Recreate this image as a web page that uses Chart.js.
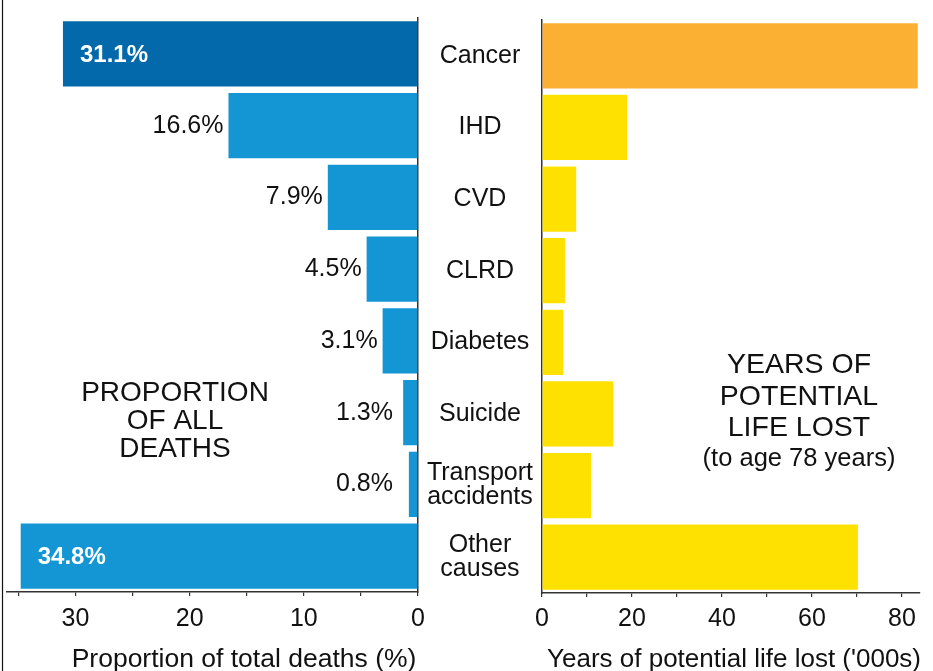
<!DOCTYPE html>
<html><head><meta charset="utf-8">
<script src="https://cdn.jsdelivr.net/npm/chart.js@4/dist/chart.umd.min.js"></script>
<style>
html,body{margin:0;padding:0;background:#fff;}
#wrap{position:relative;width:933px;height:671px;overflow:hidden;background:#fff;}
canvas{position:absolute;left:0;top:0;}
</style></head><body>
<div id="wrap"><canvas id="left" width="933" height="671"></canvas><canvas id="right" width="933" height="671"></canvas></div>
<script>
// ---- data ----
const categories = ['Cancer', 'IHD', 'CVD', 'CLRD', 'Diabetes', 'Suicide', ['Transport', 'accidents'], ['Other', 'causes']];
const deathShare = [31.1, 16.6, 7.9, 4.5, 3.1, 1.3, 0.8, 34.8];          // % of all deaths
const yearsLost = [83.5, 18.9, 7.6, 5.1, 4.7, 15.8, 10.9, 70.2];         // '000s years of potential life lost
const deathTicks = [0, 5, 10, 15, 20, 25, 30, 35];
const yearsTicks = [0, 10, 20, 30, 40, 50, 60, 70, 80];
const leftPanelTitle = ['PROPORTION', 'OF ALL', 'DEATHS'];
const rightPanelTitle = ['YEARS OF', 'POTENTIAL', 'LIFE LOST'];
const rightPanelSub = '(to age 78 years)';
const leftAxisTitle = 'Proportion of total deaths (%)';
const rightAxisTitle = "Years of potential life lost ('000s)";

// ---- styles ----
const FONT = '"Liberation Sans", Arial, Helvetica, sans-serif';
const BLUE_DARK = '#0469AA', BLUE = '#1396D3', ORANGE = '#FBB034', YELLOW = '#FFE100';
const AXIS = '#333333', TEXT = '#111111';
Chart.defaults.font.family = FONT;

const noPad = s => { s.paddingTop = 0; s.paddingBottom = 0; s.paddingLeft = 0; s.paddingRight = 0; };

const leftDecor = {
  id: 'leftDecor',
  afterDatasetsDraw(chart) {
    const ctx = chart.ctx;
    const meta = chart.getDatasetMeta(0);
    ctx.save();
    meta.data.forEach((bar, i) => {
      const v = deathShare[i];
      const label = v.toFixed(1) + '%';
      ctx.textBaseline = 'middle';
      if (v > 30) {
        ctx.font = 'bold 24px ' + FONT;
        ctx.fillStyle = '#ffffff';
        ctx.textAlign = 'left';
        ctx.fillText(label, bar.x + 17, bar.y + 1);
      } else {
        ctx.font = '25px ' + FONT;
        ctx.fillStyle = TEXT;
        ctx.textAlign = 'right';
        ctx.fillText(label, Math.min(bar.x - 5, 393), bar.y);
      }
    });
    ctx.restore();
  },
  afterDraw(chart) {
    const ctx = chart.ctx;
    ctx.save();
    ctx.strokeStyle = '#111';
    ctx.lineWidth = 1.2;
    ctx.beginPath(); ctx.moveTo(2.5, 0); ctx.lineTo(2.5, 671); ctx.stroke();
    ctx.fillStyle = TEXT;
    ctx.textAlign = 'center';
    ctx.textBaseline = 'alphabetic';
    ctx.font = '28px ' + FONT;
    leftPanelTitle.forEach((t, i) => ctx.fillText(t, 175, 401 + i * 28));
    ctx.font = '26.5px ' + FONT;
    ctx.fillText(leftAxisTitle, 244, 667);
    ctx.restore();
  }
};

const rightDecor = {
  id: 'rightDecor',
  afterDraw(chart) {
    const ctx = chart.ctx;
    ctx.save();
    ctx.fillStyle = TEXT;
    ctx.textAlign = 'center';
    ctx.textBaseline = 'alphabetic';
    ctx.font = '28.5px ' + FONT;
    rightPanelTitle.forEach((t, i) => ctx.fillText(t, 799, 373 + i * 31.7));
    ctx.font = '25.5px ' + FONT;
    ctx.fillText(rightPanelSub, 799, 466);
    ctx.font = '26px ' + FONT;
    ctx.fillText(rightAxisTitle, 734, 667);
    ctx.restore();
  }
};

new Chart(document.getElementById('left'), {
  type: 'bar',
  data: {
    labels: categories,
    datasets: [{
      data: deathShare,
      backgroundColor: deathShare.map((v, i) => i === 0 ? BLUE_DARK : BLUE),
      borderWidth: 0, barPercentage: 0.91, categoryPercentage: 1
    }]
  },
  options: {
    indexAxis: 'y', responsive: false, animation: false, devicePixelRatio: 1,
    layout: { padding: { left: 7, right: 515, top: 18, bottom: 0 } },
    plugins: { legend: { display: false }, tooltip: { enabled: false } },
    scales: {
      x: {
        type: 'linear', position: 'bottom', reverse: true, min: 0, max: 36,
        afterBuildTicks: s => { s.ticks = deathTicks.map(v => ({ value: v })); },
        afterFit: s => { s.height = 79; noPad(s); },
        ticks: { autoSkip: false, maxRotation: 0, padding: 8, color: TEXT, font: { size: 25 },
                 callback: v => (v % 10 === 0 ? String(v) : '') },
        grid: { display: true, drawOnChartArea: false, drawTicks: true, tickLength: 4, color: AXIS, lineWidth: 1.2 },
        border: { display: true, color: AXIS, width: 1.5 }
      },
      y: {
        type: 'category', position: 'right',
        afterFit: s => { s.width = 0; noPad(s); },
        ticks: { display: false },
        grid: { display: false, drawTicks: false },
        border: { display: true, color: AXIS, width: 1.5 }
      }
    }
  },
  plugins: [leftDecor]
});

new Chart(document.getElementById('right'), {
  type: 'bar',
  data: {
    labels: categories,
    datasets: [{
      data: yearsLost,
      backgroundColor: yearsLost.map((v, i) => i === 0 ? ORANGE : YELLOW),
      borderWidth: 0, barPercentage: 0.91, categoryPercentage: 1
    }]
  },
  options: {
    indexAxis: 'y', responsive: false, animation: false, devicePixelRatio: 1,
    layout: { padding: { left: 418, right: 13, top: 20, bottom: 0 } },
    plugins: { legend: { display: false }, tooltip: { enabled: false } },
    scales: {
      x: {
        type: 'linear', position: 'bottom', min: 0, max: 84,
        afterBuildTicks: s => { s.ticks = yearsTicks.map(v => ({ value: v })); },
        afterFit: s => { s.height = 78; noPad(s); },
        ticks: { autoSkip: false, maxRotation: 0, padding: 7, color: TEXT, font: { size: 25 },
                 callback: v => (v % 20 === 0 ? String(v) : '') },
        grid: { display: true, drawOnChartArea: false, drawTicks: true, tickLength: 4, color: AXIS, lineWidth: 1.2 },
        border: { display: true, color: AXIS, width: 1.5 }
      },
      y: {
        type: 'category', position: 'left',
        afterFit: s => { s.width = 124; noPad(s); },
        ticks: { crossAlign: 'center', padding: 9, color: TEXT, font: { size: 25, lineHeight: 0.96 } },
        grid: { display: false, drawTicks: false },
        border: { display: true, color: AXIS, width: 1.5 }
      }
    }
  },
  plugins: [rightDecor]
});
</script>
</body></html>
